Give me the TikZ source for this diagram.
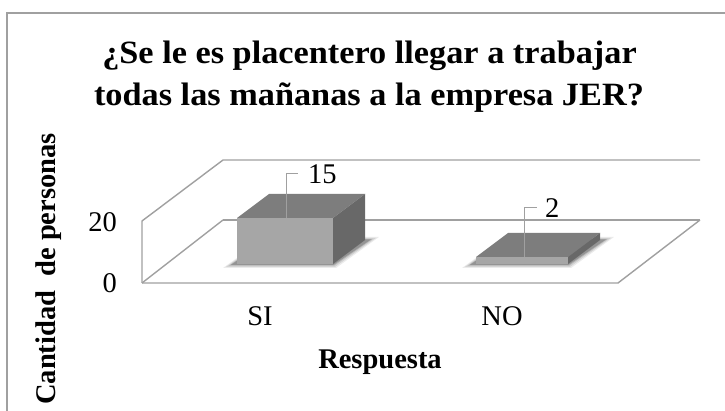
\documentclass[tikz,border=0pt]{standalone}
\usepackage{fontspec}
\setmainfont{Liberation Serif}
\usepackage{graphicx}
\definecolor{framegray}{RGB}{160,160,160}
\definecolor{frontgray}{RGB}{166,166,166}
\definecolor{topgray}{RGB}{125,125,125}
\definecolor{sidegray}{RGB}{104,104,104}
\tikzset{
  frameline/.style={draw=framegray, line width=1.4pt, line join=miter},
  leader/.style={draw=framegray, line width=1pt},
  titletext/.style={font=\fontsize{32.5}{38}\selectfont\bfseries, inner sep=0pt, anchor=base},
  ticktext/.style={font=\fontsize{28.5}{33}\selectfont, inner sep=0pt},
  axistext/.style={font=\fontsize{28.5}{33}\selectfont\bfseries, inner sep=0pt, anchor=base},
}
\newcommand{\sx}[1]{\scalebox{1.055}[1]{#1}}
\newcommand{\drawbarshape}[4]{% xleft, xright, ytop, ybottom ; depth (32,-24)
  \foreach \e/\o in {10/0.08,7/0.10,4/0.14,2/0.18}{
    \fill[black, opacity=\o]
      (#1-\e-4, #4+\e*0.4) -- (#2+\e*0.3, #4+\e*0.4) -- (#2+32+\e+4, #4-24-\e*0.3) -- (#1+32-\e*0.3, #4-24-\e*0.3) -- cycle;
  }
  \fill[frontgray] (#1,#3) rectangle (#2,#4);
  \fill[topgray] (#1,#3) -- (#2,#3) -- (#2+32,#3-24) -- (#1+32,#3-24) -- cycle;
  \fill[sidegray] (#2,#3) -- (#2+32,#3-24) -- (#2+32,#4-24) -- (#2,#4) -- cycle;
}
\begin{document}
\begin{tikzpicture}[x=1pt,y=-1pt]
  \useasboundingbox (0,0) rectangle (725,411);
  \fill[white] (0,0) rectangle (725,411);
  % outer chart border
  \draw[frameline] (7,411) -- (7,13) -- (726,13);
  % title
  \node[titletext] (t1) at (369.5,64) {\sx{¿Se le es placentero llegar a trabajar}};
  \node[titletext] (t2) at (369,106) {\sx{todas las mañanas a la empresa JER?}};
  % 3D frame: back wall and floor
  \draw[frameline] (142,283) -- (142,221) -- (223,160) -- (700,160);
  \draw[frameline] (223,220) -- (700,220);
  \draw[frameline] (142,283) -- (223,220);
  \draw[frameline] (142,283) -- (618,283) -- (700,220);
  % bars
  \drawbarshape{237}{333}{218}{264}
  \drawbarshape{476}{568}{257}{264}
  % data labels
  \node[ticktext, anchor=west] (v15) at (308,174) {15};
  \node[ticktext, anchor=west] (v2) at (545,208) {2};
  \coordinate (b15) at (286,218);
  \coordinate (b2) at (524,257);
  \draw[leader] (b15) |- ([xshift=-10pt]v15.west);
  \draw[leader] (b2) |- ([xshift=-8pt]v2.west);
  % tick labels
  \node[ticktext, anchor=east] (y20) at (117,222) {20};
  \node[ticktext, anchor=east] (y0) at (117,283) {0};
  % category labels
  \node[ticktext, anchor=base] (cSI) at (260,326) {SI};
  \node[ticktext, anchor=base] (cNO) at (502,326) {NO};
  % axis titles
  \node[axistext] (xt) at (380,368) {Respuesta};
  \node[axistext, rotate=90] (yt) at (55,269) {Cantidad\ \ de personas};
\end{tikzpicture}
\end{document}
